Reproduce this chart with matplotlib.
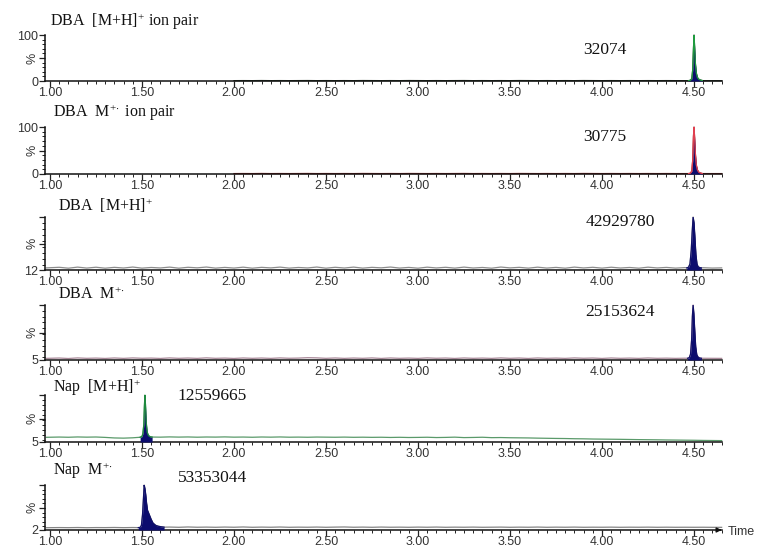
import numpy as np
import matplotlib
matplotlib.use("Agg")
import matplotlib.pyplot as plt
from matplotlib.ticker import MultipleLocator, FixedLocator

plt.rcParams['mathtext.fontset'] = 'custom'
plt.rcParams['mathtext.rm'] = 'Liberation Serif'
plt.rcParams['mathtext.it'] = 'Liberation Serif:italic'

# ---------------- data ----------------
titles = [r"DBA  [M+H]$^{+}$ ion pair",
          r"DBA  M$^{+\!\cdot}$ ion pair",
          r"DBA  [M+H]$^{+}$",
          r"DBA  M$^{+\!\cdot}$",
          r"Nap  [M+H]$^{+}$",
          r"Nap  M$^{+\!\cdot}$"]
peak_areas = [32074, 30775, 42929780, 25153624, 12559665, 53353044]
y_offsets = [0, 0, 12, 5, 5, 2]

# retention time grid for the baseline traces (min)
t_grid = [0.98, 1.05, 1.10, 1.15, 1.20, 1.25, 1.30, 1.35, 1.40, 1.45, 1.50,
          1.55, 1.60, 1.65, 1.70, 1.75, 1.80, 1.85, 1.90, 1.95, 2.00, 2.05,
          2.10, 2.15, 2.20, 2.25, 2.30, 2.35, 2.40, 2.45, 2.50, 2.55, 2.60,
          2.65, 2.70, 2.75, 2.80, 2.85, 2.90, 2.95, 3.00, 3.05, 3.10, 3.15,
          3.20, 3.25, 3.30, 3.35, 3.40, 3.45, 3.50, 3.55, 3.60, 3.65, 3.70,
          3.75, 3.80, 3.85, 3.90, 3.95, 4.00, 4.05, 4.10, 4.15, 4.20, 4.25,
          4.30, 4.35, 4.40, 4.45, 4.50, 4.55, 4.60, 4.65]

nan = float('nan')
base_dba_mh_pair = [nan] * 20 + [
    0.8, 0.9, 0.8, 1.0, 0.8, 0.9, 0.8, 0.9, 1.0, 0.8, 0.9, 0.8, 0.9, 0.8,
    1.0, 0.9, 0.8, 0.9, 0.8, 1.0, 0.9, 0.8, 0.9, 0.8, 0.9, 1.0, 0.8, 0.9,
    0.8, 0.9, 0.8, 1.0, 0.9, 0.8, 0.9, 0.8, 0.9, 0.8, 1.0, 0.9, 0.8, 0.9,
    0.8, 0.9, 0.8, 0.9, 0.8, 0.9, 0.8, 0.8, 0.9, 0.8, 0.8, 0.8]
base_dba_m_pair = [nan] * 20 + [
    0.9, 1.0, 0.9, 1.1, 0.9, 1.0, 0.9, 1.0, 1.1, 0.9, 1.0, 0.9, 1.0, 0.9,
    1.1, 1.0, 0.9, 1.0, 0.9, 1.1, 1.0, 0.9, 1.0, 0.9, 1.0, 1.1, 0.9, 1.0,
    0.9, 1.0, 0.9, 1.1, 1.0, 0.9, 1.0, 0.9, 1.0, 0.9, 1.1, 1.0, 0.9, 1.0,
    0.9, 1.0, 0.9, 1.0, 0.9, 1.0, 0.9, 0.9, 1.0, 0.9, 0.9, 0.9]
base_dba_mh = [
    15.5, 16.5, 15.0, 16.8, 15.2, 16.6, 15.0, 16.4, 15.3, 16.9, 15.1, 16.2,
    15.4, 16.8, 15.0, 16.5, 15.6, 16.9, 15.1, 16.3, 15.2, 16.7, 15.0, 16.4,
    15.5, 16.8, 15.1, 16.2, 15.4, 16.9, 15.0, 16.5, 15.3, 16.8, 15.1, 16.4,
    15.6, 16.9, 15.2, 16.3, 15.0, 16.7, 15.4, 16.5, 15.1, 16.8, 15.3, 16.2,
    15.0, 16.9, 15.5, 16.4, 15.1, 16.7, 15.2, 16.3, 15.0, 16.8, 15.4, 16.5,
    15.1, 16.6, 15.3, 16.2, 15.0, 16.7, 15.4, 16.3, 15.1, 16.0, 15.3, 15.8,
    15.2, 15.5]
base_dba_m = [
    7.8, 8.4, 7.6, 8.6, 7.9, 8.3, 7.7, 8.5, 7.8, 8.6, 8.0, 8.3, 7.7, 8.6,
    7.9, 8.4, 7.8, 8.7, 7.9, 8.3, 7.7, 8.5, 7.9, 8.4, 7.8, 8.6, 8.0, 8.3,
    9.0, 8.7, 7.9, 8.5, 7.8, 8.4, 7.9, 8.6, 7.7, 8.5, 7.9, 8.3, 7.8, 8.6,
    8.0, 8.4, 7.7, 8.5, 7.9, 8.3, 7.8, 8.6, 7.9, 8.4, 7.7, 8.5, 7.9, 8.3,
    7.8, 8.6, 8.0, 8.4, 7.7, 8.5, 7.9, 8.3, 7.8, 8.5, 7.9, 8.2, 7.8, 8.1,
    7.9, 8.0, 7.9, 7.8]
base_nap_mh = [
    14.5, 15.0, 14.6, 15.2, 14.8, 15.1, 14.3, 13.2, 12.8, 13.5, 14.6, 15.0,
    14.8, 15.3, 14.9, 15.2, 14.7, 15.1, 14.9, 15.3, 14.8, 15.0, 14.6, 15.1,
    14.8, 15.2, 14.7, 14.9, 14.6, 15.0, 14.8, 14.6, 14.9, 14.5, 14.7, 14.4,
    14.6, 14.2, 14.5, 14.1, 14.3, 14.6, 14.0, 14.3, 14.8, 13.9, 14.2, 14.6,
    13.8, 14.0, 13.6, 13.4, 13.2, 12.8, 12.5, 12.2, 12.0, 11.6, 11.4, 11.0,
    10.8, 10.6, 10.4, 10.1, 9.8, 9.6, 9.4, 9.1, 8.9, 8.7, 8.5, 8.2, 8.0, 7.8]
base_nap_m = [
    7.0, 7.3, 7.1, 7.4, 7.0, 7.3, 7.2, 7.5, 7.1, 7.4, 7.2, 7.6, 8.0, 8.4,
    7.9, 8.6, 8.0, 8.3, 7.9, 8.4, 8.0, 8.6, 7.9, 8.3, 8.0, 8.5, 7.9, 8.2,
    8.0, 8.4, 7.9, 8.3, 8.6, 8.0, 8.3, 7.9, 8.4, 8.0, 8.2, 7.9, 8.3, 8.0,
    8.4, 7.9, 8.2, 8.0, 8.3, 7.9, 8.1, 8.3, 7.9, 8.2, 8.0, 8.4, 7.9, 8.2,
    8.0, 8.3, 7.9, 8.1, 8.0, 8.2, 7.9, 8.1, 8.0, 8.2, 7.9, 8.1, 7.9, 8.0,
    7.9, 8.0, 7.8, 7.8]

# peak profiles (time in min, relative intensity in %)
pk_t_dba_mh_pair = [4.470, 4.480, 4.488, 4.493, 4.497, 4.500, 4.503, 4.507,
                    4.512, 4.518, 4.525, 4.535, 4.545]
pk_y_dba_mh_pair = [0.8, 1.5, 5, 25, 70, 100, 75, 40, 18, 8, 4, 2, 1]
pk_t_dba_m_pair = [4.470, 4.480, 4.488, 4.493, 4.497, 4.500, 4.503, 4.507,
                   4.512, 4.518, 4.525, 4.535, 4.545]
pk_y_dba_m_pair = [0.9, 1.6, 6, 30, 80, 100, 78, 45, 20, 9, 4, 2, 1]
pk_t_dba_mh = [4.460, 4.470, 4.478, 4.485, 4.490, 4.495, 4.500, 4.505,
               4.510, 4.516, 4.522, 4.530, 4.540]
pk_y_dba_mh = [15.5, 16.5, 22, 45, 75, 100, 90, 65, 38, 22, 17.5, 16, 15.5]
pk_t_dba_m = [4.465, 4.474, 4.481, 4.487, 4.491, 4.495, 4.499, 4.504,
              4.509, 4.515, 4.522, 4.530, 4.540]
pk_y_dba_m = [8, 9, 15, 40, 80, 100, 85, 55, 28, 14, 10, 8.5, 8]
pk_t_nap_mh = [1.490, 1.500, 1.505, 1.510, 1.513, 1.516, 1.519, 1.523,
               1.528, 1.535, 1.545, 1.555]
pk_y_nap_mh = [14.6, 16, 22, 40, 75, 100, 80, 45, 25, 18, 15.5, 15]
pk_t_nap_m = [1.480, 1.490, 1.497, 1.503, 1.508, 1.512, 1.516, 1.520, 1.525,
              1.530, 1.540, 1.550, 1.560, 1.575, 1.590, 1.605, 1.620]
pk_y_nap_m = [7.2, 7.6, 12, 35, 70, 100, 92, 80, 60, 45, 35, 25, 17, 12,
              10, 9, 8.2]

baselines = [base_dba_mh_pair, base_dba_m_pair, base_dba_mh, base_dba_m,
             base_nap_mh, base_nap_m]
peak_times = [pk_t_dba_mh_pair, pk_t_dba_m_pair, pk_t_dba_mh, pk_t_dba_m,
              pk_t_nap_mh, pk_t_nap_m]
peak_vals = [pk_y_dba_mh_pair, pk_y_dba_m_pair, pk_y_dba_mh, pk_y_dba_m,
             pk_y_nap_mh, pk_y_nap_m]

# ---------------- styling / layout ----------------
W, H = 758, 547
trace_colors = ["#2a3a2a", "#8a1a1a", "#8c8c8c", "#a88898", "#5a9a6a", "#858585"]
peak_edge = ["#1f9a3f", "#e04050", "#10106a", "#10106a", "#1f8a3f", "#10106a"]
fill_color = "#0c0c6e"
ax_rows = [(35, 81), (127, 174), (217, 270), (305, 360), (395, 442), (485, 530)]
title_pos = [(50, 22), (53, 113), (58, 206), (58, 295), (53, 388), (53, 471)]
num_pos = [(605, 50), (605, 137), (620, 222), (620, 312), (212, 396), (213, 478)]
x_left, x_right = 45, 722

fig = plt.figure(figsize=(W / 100, H / 100), dpi=100)
fig.patch.set_facecolor("white")

tick_font = dict(family="Liberation Sans", size=9, color="#333333")

for i in range(6):
    top, bot = ax_rows[i]
    ax = fig.add_axes([x_left / W, 1 - bot / H, (x_right - x_left) / W,
                       (bot - top) / H])
    ax.set_xlim(0.973, 4.652)
    ax.set_ylim(y_offsets[i], 100)
    for s in ("top", "right"):
        ax.spines[s].set_visible(False)
    for s in ("left", "bottom"):
        ax.spines[s].set_linewidth(1.1)
        ax.spines[s].set_color("#111111")

    tg = np.array(t_grid)
    bg = np.array(baselines[i], dtype=float)
    pt = np.array(peak_times[i])
    pv = np.array(peak_vals[i], dtype=float)
    keep = (tg < pt[0]) | (tg > pt[-1])
    t_all = np.concatenate([tg[keep], pt])
    y_all = np.concatenate([bg[keep], pv])
    order = np.argsort(t_all)
    t_all, y_all = t_all[order], y_all[order]

    ax.plot(t_all, y_all, color=trace_colors[i], lw=0.9, zorder=2,
            clip_on=False)
    ax.fill_between(pt, y_offsets[i], pv, color=fill_color, lw=0, zorder=3)
    ax.plot(pt, pv, color=peak_edge[i], lw=0.9, zorder=4)

    # x axis ticks
    ax.xaxis.set_major_locator(FixedLocator([1.0, 1.5, 2.0, 2.5, 3.0, 3.5,
                                             4.0, 4.5]))
    ax.xaxis.set_minor_locator(MultipleLocator(0.05))
    ax.set_xticklabels(["1.00", "1.50", "2.00", "2.50", "3.00", "3.50",
                        "4.00", "4.50"], **tick_font)
    ax.tick_params(axis="x", which="major", length=4, width=0.9, pad=0.5,
                   direction="out", color="#222222")
    ax.tick_params(axis="x", which="minor", length=2, width=0.7,
                   direction="out", color="#222222")

    # y axis ticks
    lo = y_offsets[i]
    ax.set_yticks([lo, (lo + 100) / 2, 100])
    if lo == 0:
        ylabels = ["0", "%", "100"]
    else:
        ylabels = [str(lo), "%", ""]
    ax.set_yticklabels(ylabels, **tick_font)
    ax.get_yticklabels()[1].set_rotation(90)
    ax.get_yticklabels()[1].set_va("center")
    ax.yaxis.set_minor_locator(MultipleLocator(10))
    ax.tick_params(axis="y", which="major", length=4, width=0.9, pad=1,
                   direction="out", color="#222222")
    ax.tick_params(axis="y", which="minor", length=2, width=0.7,
                   direction="out", color="#222222")

    tx, ty = title_pos[i]
    fig.text(tx / W, 1 - ty / H, titles[i], family="Liberation Serif",
             size=11.5, ha="left", va="center", color="#111111")
    nx, ny = num_pos[i]
    fig.text(nx / W, 1 - ny / H, str(peak_areas[i]), family="Liberation Serif",
             size=12.5, ha="center", va="center", color="#111111")

    if i == 5:
        ax.annotate("", xy=(4.665, lo), xytext=(4.62, lo),
                    xycoords="data", annotation_clip=False,
                    arrowprops=dict(arrowstyle="-|>", color="#111111",
                                    lw=1.0, mutation_scale=7))
        fig.text(728 / W, 1 - 532 / H, "Time", family="Liberation Sans",
                 size=9, ha="left", va="center", color="#333333")

fig.savefig("out.png", dpi=100, facecolor="white")
